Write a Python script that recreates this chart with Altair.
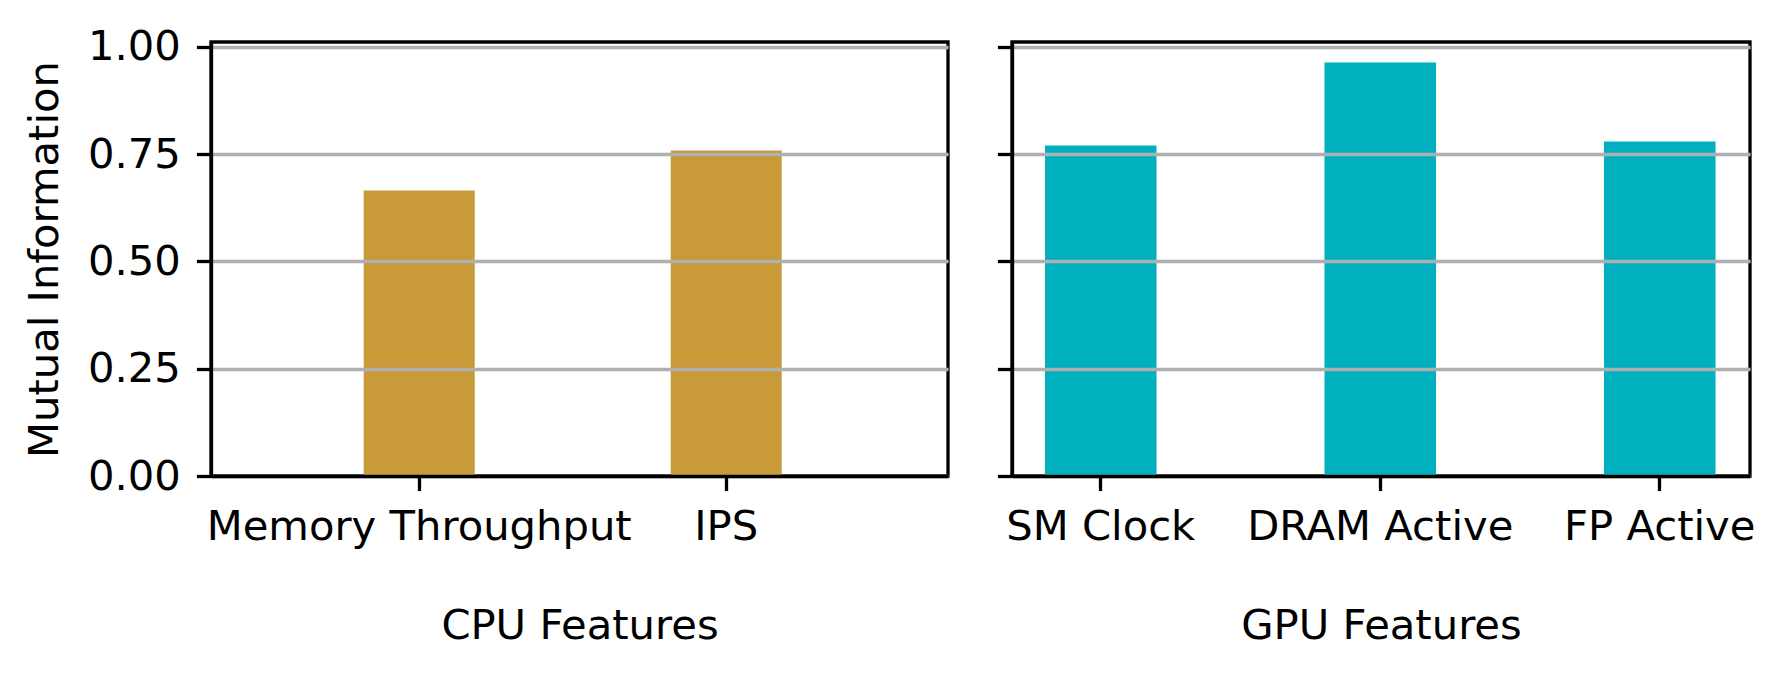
import altair as alt
import pandas as pd

cpu_features = ["Memory Throughput", "IPS"]
cpu_values = [0.665, 0.758]
gpu_features = ["SM Clock", "DRAM Active", "FP Active"]
gpu_values = [0.770, 0.963, 0.779]
y_ticks = [0.0, 0.25, 0.5, 0.75, 1.0]

cpu_df = pd.DataFrame({"feature": cpu_features, "value": cpu_values})
gpu_df = pd.DataFrame({"feature": gpu_features, "value": gpu_values})

FS = 41.7
LW = 3.3
TICK = 14.6
ymax = 1.011

yscale = alt.Scale(domain=[0, ymax], nice=False, zero=True)

left = alt.Chart(cpu_df).mark_bar(color="#C89A38").encode(
    x=alt.X("feature:N", sort=cpu_features,
            scale=alt.Scale(paddingInner=0.6384, paddingOuter=0.5195, align=0.4787),
            axis=alt.Axis(title="CPU Features", labelAngle=0, grid=False,
                          titlePadding=57, zindex=2)),
    y=alt.Y("value:Q", scale=yscale,
            axis=alt.Axis(title="Mutual Information", values=y_ticks, format=".2f",
                          grid=True, zindex=1, titlePadding=21)),
).properties(width=737, height=434)

right = alt.Chart(gpu_df).mark_bar(color="#00B0BE").encode(
    x=alt.X("feature:N", sort=gpu_features,
            scale=alt.Scale(paddingInner=0.601, paddingOuter=0.1207, align=0.489),
            axis=alt.Axis(title="GPU Features", labelAngle=0, grid=False,
                          titlePadding=57, zindex=2)),
    y=alt.Y("value:Q", scale=yscale,
            axis=alt.Axis(title=None, values=y_ticks, labels=False,
                          grid=True, zindex=1)),
).properties(width=738, height=434)

chart = alt.hconcat(left, right, spacing=44).properties(
    padding={"left": 14, "top": 17, "right": 0, "bottom": 0}
).configure(
    font="DejaVu Sans"
).configure_view(
    stroke="black", strokeWidth=LW
).configure_axis(
    labelFont="DejaVu Sans", titleFont="DejaVu Sans",
    labelFontSize=FS, titleFontSize=FS, titleFontWeight="normal",
    labelColor="black", titleColor="black", labelLimit=0,
    domainColor="black", domainWidth=LW,
    tickColor="black", tickWidth=LW, tickSize=TICK,
    labelPadding=16,
    gridColor="#b0b0b0", gridWidth=LW,
)

chart.save("out.html", embed_options={"renderer": "svg", "actions": False})
